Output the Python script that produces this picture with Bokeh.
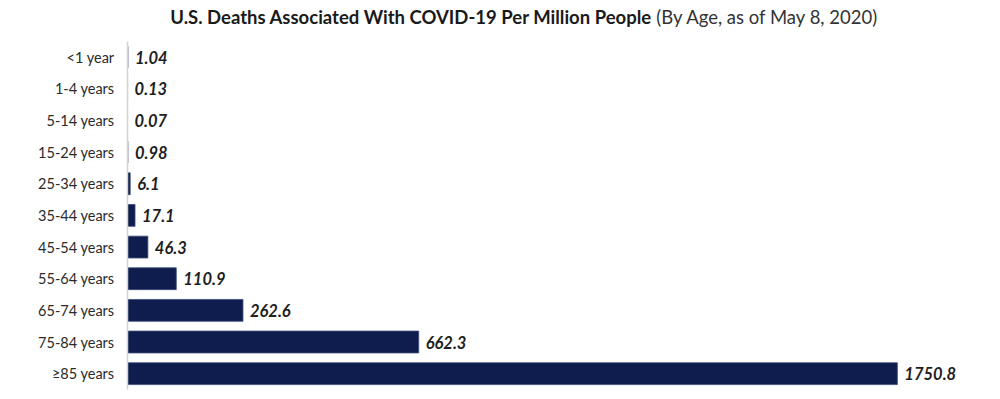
from bokeh.plotting import figure
from bokeh.models import ColumnDataSource, Range1d, FixedTicker
from bokeh.core.properties import value
from bokeh.embed import file_html
from bokeh.resources import INLINE

age_groups = ["<1 year", "1-4 years", "5-14 years", "15-24 years", "25-34 years",
              "35-44 years", "45-54 years", "55-64 years", "65-74 years",
              "75-84 years", "\u226585 years"]
deaths_per_million = [1.04, 0.13, 0.07, 0.98, 6.1, 17.1, 46.3, 110.9, 262.6, 662.3, 1750.8]
value_labels = ["1.04", "0.13", "0.07", "0.98", "6.1", "17.1", "46.3", "110.9", "262.6", "662.3", "1750.8"]

title_bold = "U.S. Deaths Associated With COVID-19 Per Million People"
title_regular = "(By Age, as of May 8, 2020)"

FONT = "Lato"
BAR = "#0e1d4e"

n = len(age_groups)
ypos = [n - i for i in range(n)]  # first category on top

src = ColumnDataSource(dict(y=ypos, val=deaths_per_million, lab=value_labels))

p = figure(width=984, height=395, output_backend="svg", toolbar_location=None,
           y_range=Range1d(0.5, 12.79), x_range=Range1d(0, 1949),
           min_border_left=127, min_border_right=0, min_border_top=0, min_border_bottom=6)

p.hbar(y="y", right="val", left=0, height=0.69, source=src,
       fill_color=BAR, line_color="#3a4a78", line_width=0.8)

p.text(x="val", y="y", text="lab", source=src, x_offset=7,
       text_font=value(FONT), text_font_style="bold italic", text_font_size="16.5px",
       text_color="#1e1e1e", text_baseline="middle", text_align="left")

# two-part title
p.text(x=[1198], y=[12.27], text=[title_bold], x_offset=-2,
       text_font=value(FONT), text_font_style="bold", text_font_size="18.5px",
       text_color="#1a1a1a", text_baseline="middle", text_align="right")
p.text(x=[1198], y=[12.27], text=[title_regular], x_offset=2,
       text_font=value(FONT), text_font_style="normal", text_font_size="18.5px",
       text_color="#333333", text_baseline="middle", text_align="left")

p.xaxis.visible = False
p.xgrid.visible = False
p.ygrid.visible = False
p.outline_line_color = None

ya = p.yaxis[0]
ya.ticker = FixedTicker(ticks=ypos)
ya.major_label_overrides = {y: lab for y, lab in zip(ypos, age_groups)}
ya.bounds = (0.5, n + 0.5)
ya.major_tick_line_color = None
ya.minor_tick_line_color = None
ya.major_tick_out = 0
ya.major_tick_in = 0
ya.axis_line_color = "#d4d4d4"
ya.axis_line_width = 1.5
ya.major_label_standoff = 13
ya.major_label_text_font = FONT
ya.major_label_text_font_size = "14.5px"
ya.major_label_text_color = "#2a2a2a"

open("out.html", "w").write(file_html(p, INLINE))
